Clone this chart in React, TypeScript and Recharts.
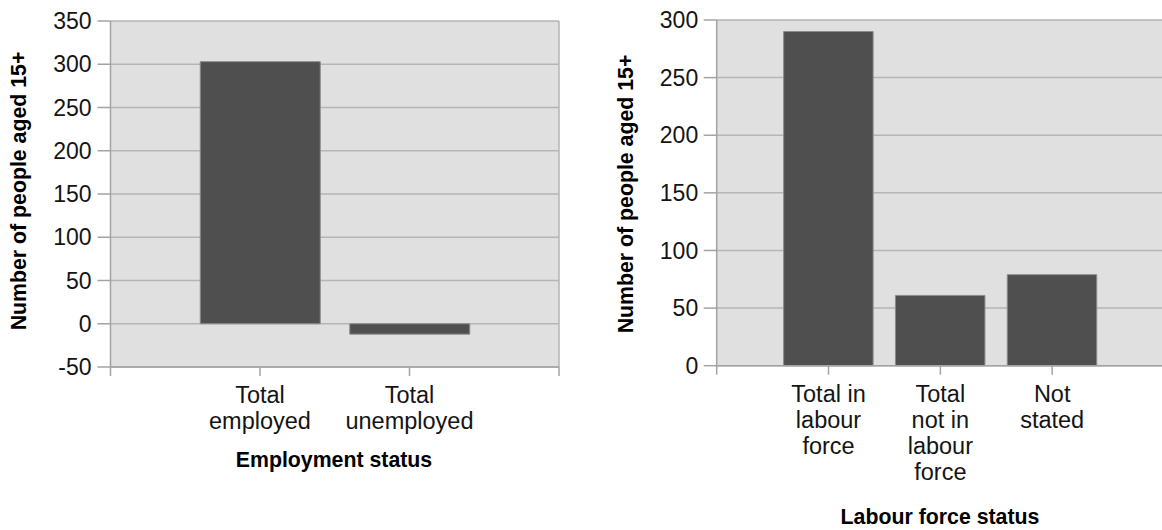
import { BarChart, Bar, XAxis, YAxis, CartesianGrid, ReferenceLine, Label } from "recharts";

const employmentCategories = ["Total\nemployed", "Total\nunemployed"];
const employmentValues = [303, -12];
const employmentTicks = [-50, 0, 50, 100, 150, 200, 250, 300, 350];

const labourCategories = ["Total in\nlabour\nforce", "Total\nnot in\nlabour\nforce", "Not\nstated"];
const labourValues = [290, 61, 79];
const labourTicks = [0, 50, 100, 150, 200, 250, 300];

const yTitle = "Number of people aged 15+";

const FONT = "'Liberation Sans', Arial, sans-serif";
const BG = "#e0e0e0";
const GRID = "#b5b5b5";
const AXIS = "#a3a3a3";
const BAR = "#4f4f4f";
const TEXT = "#141414";

const employmentData = employmentCategories.map((c, i) => ({ pos: i + 1, name: c, value: employmentValues[i] }));
const labourData = labourCategories.map((c, i) => ({ pos: i + 1, name: c, value: labourValues[i] }));

function makeTick(cats: string[]) {
  return (props: any) => {
    const { x, y, payload } = props;
    const label = cats[payload.value - 1];
    if (!label) return <g />;
    const lines = label.split("\n");
    return (
      <text x={x} y={y} textAnchor="middle" fontSize={23.5} fontFamily={FONT} fill={TEXT}>
        {lines.map((l, i) => (
          <tspan key={i} x={x} dy={i === 0 ? 25 : 26}>
            {l}
          </tspan>
        ))}
      </text>
    );
  };
}

const yTickStyle = { fontSize: 23, fontFamily: FONT, fill: TEXT };

function YTitle({ x, y }: { x: number; y: number }) {
  return (
    <text
      x={x}
      y={y}
      transform={`rotate(-90 ${x} ${y})`}
      textAnchor="middle"
      fontSize={21.3}
      fontWeight="bold"
      fontFamily={FONT}
      fill="#000"
    >
      {yTitle}
    </text>
  );
}

function XTitle({ x, y, text }: { x: number; y: number; text: string }) {
  return (
    <text x={x} y={y} textAnchor="middle" fontSize={21.3} fontWeight="bold" fontFamily={FONT} fill="#000">
      {text}
    </text>
  );
}

export default function App() {
  return (
    <div style={{ position: "absolute", left: 0, top: 0, width: 1162, height: 530, overflow: "hidden", background: "#fff" }}>
      <div style={{ position: "absolute", left: 0, top: 0 }}>
        <BarChart width={580} height={530} data={employmentData} margin={{ top: 21, right: 21, left: 0, bottom: 0 }}>
          <CartesianGrid vertical={false} fill={BG} stroke={GRID} strokeWidth={1.5} />
          <XAxis
            dataKey="pos"
            type="number"
            domain={[0, 3]}
            ticks={[0, 1, 2, 3]}
            interval={0}
            height={163}
            tickSize={9}
            tickMargin={2}
            stroke={AXIS}
            strokeWidth={1.5}
            tick={makeTick(employmentCategories)}
          >
            <Label content={() => <XTitle x={334} y={467} text="Employment status" />} />
          </XAxis>
          <YAxis
            type="number"
            domain={[-50, 350]}
            ticks={employmentTicks}
            interval={0}
            width={110.5}
            tickSize={13}
            tickMargin={6}
            stroke={AXIS}
            strokeWidth={1.5}
            tick={yTickStyle}
          >
            <Label content={() => <YTitle x={26} y={191} />} />
          </YAxis>
          <ReferenceLine x={3} stroke={GRID} strokeWidth={1.5} />
          <Bar dataKey="value" fill={BAR} stroke="#8c8c8c" strokeWidth={1} barSize={120} isAnimationActive={false} />
        </BarChart>
      </div>
      <div style={{ position: "absolute", left: 600, top: 0 }}>
        <BarChart width={564} height={530} data={labourData} margin={{ top: 20, right: 0, left: 0, bottom: 0 }}>
          <CartesianGrid vertical={false} fill={BG} stroke={GRID} strokeWidth={1.5} />
          <XAxis
            dataKey="pos"
            type="number"
            domain={[0, 4]}
            ticks={[0, 1, 2, 3, 4]}
            interval={0}
            height={164.3}
            tickSize={9}
            tickMargin={2}
            stroke={AXIS}
            strokeWidth={1.5}
            tick={makeTick(labourCategories)}
          >
            <Label content={() => <XTitle x={340} y={524} text="Labour force status" />} />
          </XAxis>
          <YAxis
            type="number"
            domain={[0, 300]}
            ticks={labourTicks}
            interval={0}
            width={116.7}
            tickSize={13}
            tickMargin={5.5}
            stroke={AXIS}
            strokeWidth={1.5}
            tick={yTickStyle}
          >
            <Label content={() => <YTitle x={32.5} y={194} />} />
          </YAxis>
          <Bar dataKey="value" fill={BAR} stroke="#8c8c8c" strokeWidth={1} barSize={89.5} isAnimationActive={false} />
        </BarChart>
      </div>
    </div>
  );
}
